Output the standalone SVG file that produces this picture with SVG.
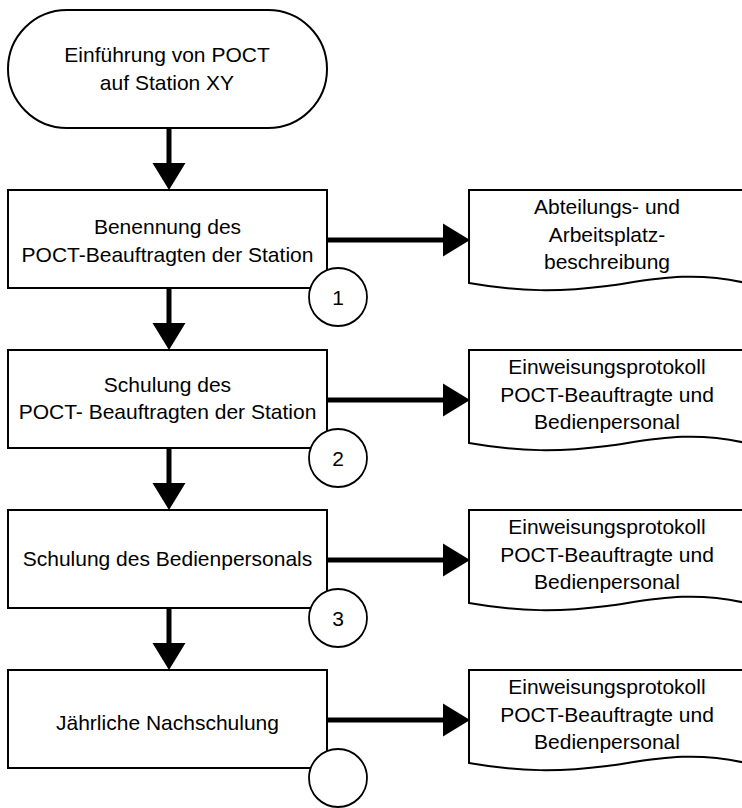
<svg xmlns="http://www.w3.org/2000/svg" width="742" height="808" viewBox="0 0 742 808">
<defs>
<style>
.shape{fill:#fff;stroke:#000;stroke-width:2}
.circ{fill:#fff;stroke:#000;stroke-width:1.8}
.t{font-family:"Liberation Sans",Arial,sans-serif;font-size:21px;fill:#000;text-anchor:middle}
.conn{stroke:#000;stroke-width:5;fill:none}
</style>
<marker id="ah" markerUnits="userSpaceOnUse" markerWidth="28" markerHeight="34" refX="0" refY="16.5" orient="auto" overflow="visible">
<path d="M0,0 L27,16.5 L0,33 Z" fill="#000"/>
</marker>
</defs>
<rect width="742" height="808" fill="#fff"/>
<g id="connectors">
<line class="conn" x1="169" y1="128" x2="169" y2="163" marker-end="url(#ah)"/>
<line class="conn" x1="169" y1="288" x2="169" y2="323" marker-end="url(#ah)"/>
<line class="conn" x1="169" y1="448" x2="169" y2="483" marker-end="url(#ah)"/>
<line class="conn" x1="169" y1="608" x2="169" y2="643" marker-end="url(#ah)"/>
<line class="conn" x1="327" y1="240" x2="443" y2="240" marker-end="url(#ah)"/>
<line class="conn" x1="327" y1="400" x2="443" y2="400" marker-end="url(#ah)"/>
<line class="conn" x1="327" y1="560" x2="443" y2="560" marker-end="url(#ah)"/>
<line class="conn" x1="327" y1="720" x2="443" y2="720" marker-end="url(#ah)"/>
</g>
<g id="start">
<rect class="shape" x="8" y="10" width="319" height="118" rx="59" ry="59"/>
<text class="t" x="167" y="62">Einführung von POCT</text>
<text class="t" x="167" y="90">auf Station XY</text>
</g>
<g id="step1">
<rect class="shape" x="8" y="190" width="319" height="98"/>
<text class="t" x="167.5" y="234">Benennung des</text>
<text class="t" x="167.5" y="262">POCT-Beauftragten der Station</text>
</g>
<g id="marker1">
<circle class="circ" cx="338" cy="297" r="29"/>
<text class="t" x="338" y="305">1</text>
</g>
<g id="step2">
<rect class="shape" x="8" y="350" width="319" height="98"/>
<text class="t" x="167.5" y="392">Schulung des</text>
<text class="t" x="167.5" y="419">POCT- Beauftragten der Station</text>
</g>
<g id="marker2">
<circle class="circ" cx="338" cy="458" r="29"/>
<text class="t" x="338" y="466">2</text>
</g>
<g id="step3">
<rect class="shape" x="8" y="510" width="319" height="98"/>
<text class="t" x="167.5" y="566">Schulung des Bedienpersonals</text>
</g>
<g id="marker3">
<circle class="circ" cx="338" cy="618" r="29"/>
<text class="t" x="338" y="626">3</text>
</g>
<g id="step4">
<rect class="shape" x="8" y="670" width="319" height="98"/>
<text class="t" x="167.5" y="730">Jährliche Nachschulung</text>
</g>
<g id="marker4">
<circle class="circ" cx="338" cy="778" r="29"/>
</g>
<g id="doc1">
<path class="shape" d="M469,190 L746,190 L746,283 C690,270 650,280 607,286 C560,292 520,292 469,283 Z"/>
<text class="t" x="607" y="213.5">Abteilungs- und</text>
<text class="t" x="607" y="241.5">Arbeitsplatz-</text>
<text class="t" x="607" y="269">beschreibung</text>
</g>
<g id="doc2">
<path class="shape" d="M469,350 L746,350 L746,443 C690,430 650,440 607,446 C560,452 520,452 469,443 Z"/>
<text class="t" x="607" y="373.5">Einweisungsprotokoll</text>
<text class="t" x="607" y="401.5">POCT-Beauftragte und</text>
<text class="t" x="607" y="429">Bedienpersonal</text>
</g>
<g id="doc3">
<path class="shape" d="M469,510 L746,510 L746,603 C690,590 650,600 607,606 C560,612 520,612 469,603 Z"/>
<text class="t" x="607" y="533.5">Einweisungsprotokoll</text>
<text class="t" x="607" y="561.5">POCT-Beauftragte und</text>
<text class="t" x="607" y="589">Bedienpersonal</text>
</g>
<g id="doc4">
<path class="shape" d="M469,670 L746,670 L746,763 C690,750 650,760 607,766 C560,772 520,772 469,763 Z"/>
<text class="t" x="607" y="693.5">Einweisungsprotokoll</text>
<text class="t" x="607" y="721.5">POCT-Beauftragte und</text>
<text class="t" x="607" y="749">Bedienpersonal</text>
</g>
</svg>
